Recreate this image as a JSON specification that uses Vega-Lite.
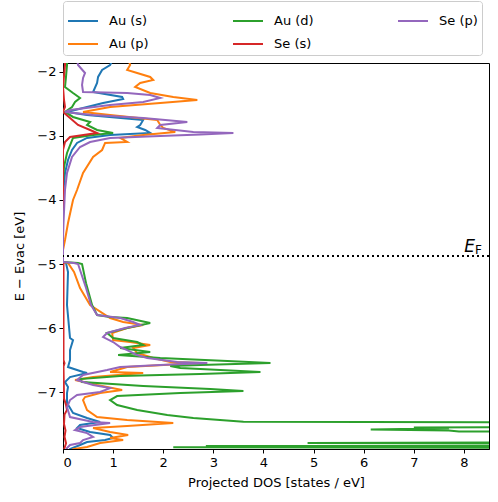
{
  "$schema": "https://vega.github.io/schema/vega-lite/v6.json",
  "width": 426,
  "height": 386,
  "autosize": {"type": "none"},
  "padding": {"left": 63, "top": 63, "right": 9, "bottom": 53},
  "config": {
    "view": {"stroke": "black", "strokeWidth": 1},
    "font": "DejaVu Sans",
    "axis": {"grid": false, "domainColor": "black", "tickColor": "black", "tickSize": 4, "labelPadding": 3, "labelFont": "DejaVu Sans", "labelFontSize": 13, "labelColor": "black", "titleFont": "DejaVu Sans", "titleFontSize": 13, "titleFontWeight": "normal", "titleColor": "black"}
  },
  "data": {"values": [
    {"orbital": "Au (s)", "E": -1.8, "dos": 1.0},
    {"orbital": "Au (s)", "E": -1.891, "dos": 0.94},
    {"orbital": "Au (s)", "E": -1.969, "dos": 0.78},
    {"orbital": "Au (s)", "E": -2.078, "dos": 0.70},
    {"orbital": "Au (s)", "E": -2.172, "dos": 0.68},
    {"orbital": "Au (s)", "E": -2.313, "dos": 0.60},
    {"orbital": "Au (s)", "E": -2.391, "dos": 1.18},
    {"orbital": "Au (s)", "E": -2.422, "dos": 1.20},
    {"orbital": "Au (s)", "E": -2.484, "dos": 0.80},
    {"orbital": "Au (s)", "E": -2.547, "dos": 0.48},
    {"orbital": "Au (s)", "E": -2.625, "dos": 0.08},
    {"orbital": "Au (s)", "E": -2.672, "dos": 0.48},
    {"orbital": "Au (s)", "E": -2.75, "dos": 1.60},
    {"orbital": "Au (s)", "E": -2.828, "dos": 1.54},
    {"orbital": "Au (s)", "E": -2.859, "dos": 1.48},
    {"orbital": "Au (s)", "E": -2.906, "dos": 1.64},
    {"orbital": "Au (s)", "E": -2.953, "dos": 1.74},
    {"orbital": "Au (s)", "E": -2.984, "dos": 0.94},
    {"orbital": "Au (s)", "E": -3.031, "dos": 0.48},
    {"orbital": "Au (s)", "E": -3.109, "dos": 0.28},
    {"orbital": "Au (s)", "E": -3.219, "dos": 0.18},
    {"orbital": "Au (s)", "E": -3.375, "dos": 0.10},
    {"orbital": "Au (s)", "E": -3.578, "dos": 0.04},
    {"orbital": "Au (s)", "E": -3.844, "dos": 0.01},
    {"orbital": "Au (s)", "E": -4.0, "dos": 0.0},
    {"orbital": "Au (s)", "E": -4.97, "dos": 0.0},
    {"orbital": "Au (s)", "E": -4.984, "dos": 0.06},
    {"orbital": "Au (s)", "E": -5.125, "dos": 0.10},
    {"orbital": "Au (s)", "E": -5.641, "dos": 0.08},
    {"orbital": "Au (s)", "E": -6.156, "dos": 0.14},
    {"orbital": "Au (s)", "E": -6.188, "dos": 0.20},
    {"orbital": "Au (s)", "E": -6.344, "dos": 0.14},
    {"orbital": "Au (s)", "E": -6.5, "dos": 0.14},
    {"orbital": "Au (s)", "E": -6.609, "dos": 0.10},
    {"orbital": "Au (s)", "E": -6.688, "dos": 0.40},
    {"orbital": "Au (s)", "E": -6.703, "dos": 0.48},
    {"orbital": "Au (s)", "E": -6.766, "dos": 0.14},
    {"orbital": "Au (s)", "E": -6.844, "dos": 0.04},
    {"orbital": "Au (s)", "E": -6.922, "dos": 0.10},
    {"orbital": "Au (s)", "E": -7.016, "dos": 0.08},
    {"orbital": "Au (s)", "E": -7.172, "dos": 0.08},
    {"orbital": "Au (s)", "E": -7.328, "dos": 0.20},
    {"orbital": "Au (s)", "E": -7.406, "dos": 0.48},
    {"orbital": "Au (s)", "E": -7.469, "dos": 0.74},
    {"orbital": "Au (s)", "E": -7.516, "dos": 0.34},
    {"orbital": "Au (s)", "E": -7.563, "dos": 0.28},
    {"orbital": "Au (s)", "E": -7.625, "dos": 0.54},
    {"orbital": "Au (s)", "E": -7.672, "dos": 0.94},
    {"orbital": "Au (s)", "E": -7.719, "dos": 1.00},
    {"orbital": "Au (s)", "E": -7.75, "dos": 0.84},
    {"orbital": "Au (s)", "E": -7.781, "dos": 0.48},
    {"orbital": "Au (s)", "E": -7.828, "dos": 0.34},
    {"orbital": "Au (s)", "E": -7.891, "dos": 0.14},
    {"orbital": "Au (s)", "E": -7.95, "dos": 0.10},

    {"orbital": "Au (p)", "E": -1.8, "dos": 1.30},
    {"orbital": "Au (p)", "E": -1.891, "dos": 1.34},
    {"orbital": "Au (p)", "E": -1.969, "dos": 1.28},
    {"orbital": "Au (p)", "E": -2.016, "dos": 1.48},
    {"orbital": "Au (p)", "E": -2.078, "dos": 1.74},
    {"orbital": "Au (p)", "E": -2.125, "dos": 1.80},
    {"orbital": "Au (p)", "E": -2.172, "dos": 1.54},
    {"orbital": "Au (p)", "E": -2.234, "dos": 1.44},
    {"orbital": "Au (p)", "E": -2.328, "dos": 1.74},
    {"orbital": "Au (p)", "E": -2.391, "dos": 2.20},
    {"orbital": "Au (p)", "E": -2.438, "dos": 2.68},
    {"orbital": "Au (p)", "E": -2.484, "dos": 1.94},
    {"orbital": "Au (p)", "E": -2.547, "dos": 0.94},
    {"orbital": "Au (p)", "E": -2.625, "dos": 0.40},
    {"orbital": "Au (p)", "E": -2.672, "dos": 0.94},
    {"orbital": "Au (p)", "E": -2.75, "dos": 1.88},
    {"orbital": "Au (p)", "E": -2.828, "dos": 1.94},
    {"orbital": "Au (p)", "E": -2.875, "dos": 2.00},
    {"orbital": "Au (p)", "E": -2.938, "dos": 2.24},
    {"orbital": "Au (p)", "E": -2.984, "dos": 1.60},
    {"orbital": "Au (p)", "E": -3.031, "dos": 1.14},
    {"orbital": "Au (p)", "E": -3.094, "dos": 1.28},
    {"orbital": "Au (p)", "E": -3.109, "dos": 0.84},
    {"orbital": "Au (p)", "E": -3.219, "dos": 0.78},
    {"orbital": "Au (p)", "E": -3.328, "dos": 0.60},
    {"orbital": "Au (p)", "E": -3.578, "dos": 0.40},
    {"orbital": "Au (p)", "E": -3.844, "dos": 0.28},
    {"orbital": "Au (p)", "E": -4.0, "dos": 0.20},
    {"orbital": "Au (p)", "E": -4.359, "dos": 0.10},
    {"orbital": "Au (p)", "E": -4.625, "dos": 0.04},
    {"orbital": "Au (p)", "E": -4.781, "dos": 0.0},
    {"orbital": "Au (p)", "E": -4.969, "dos": 0.0},
    {"orbital": "Au (p)", "E": -4.984, "dos": 0.10},
    {"orbital": "Au (p)", "E": -5.125, "dos": 0.22},
    {"orbital": "Au (p)", "E": -5.375, "dos": 0.34},
    {"orbital": "Au (p)", "E": -5.641, "dos": 0.54},
    {"orbital": "Au (p)", "E": -5.844, "dos": 0.94},
    {"orbital": "Au (p)", "E": -5.906, "dos": 1.20},
    {"orbital": "Au (p)", "E": -5.953, "dos": 1.60},
    {"orbital": "Au (p)", "E": -6.0, "dos": 1.28},
    {"orbital": "Au (p)", "E": -6.078, "dos": 0.98},
    {"orbital": "Au (p)", "E": -6.188, "dos": 1.00},
    {"orbital": "Au (p)", "E": -6.219, "dos": 1.34},
    {"orbital": "Au (p)", "E": -6.266, "dos": 1.74},
    {"orbital": "Au (p)", "E": -6.313, "dos": 1.40},
    {"orbital": "Au (p)", "E": -6.391, "dos": 1.48},
    {"orbital": "Au (p)", "E": -6.469, "dos": 1.80},
    {"orbital": "Au (p)", "E": -6.531, "dos": 2.14},
    {"orbital": "Au (p)", "E": -6.547, "dos": 2.74},
    {"orbital": "Au (p)", "E": -6.609, "dos": 1.28},
    {"orbital": "Au (p)", "E": -6.688, "dos": 0.94},
    {"orbital": "Au (p)", "E": -6.703, "dos": 1.60},
    {"orbital": "Au (p)", "E": -6.766, "dos": 0.60},
    {"orbital": "Au (p)", "E": -6.813, "dos": 0.24},
    {"orbital": "Au (p)", "E": -6.891, "dos": 0.68},
    {"orbital": "Au (p)", "E": -6.969, "dos": 1.18},
    {"orbital": "Au (p)", "E": -7.016, "dos": 0.74},
    {"orbital": "Au (p)", "E": -7.078, "dos": 0.44},
    {"orbital": "Au (p)", "E": -7.125, "dos": 0.40},
    {"orbital": "Au (p)", "E": -7.281, "dos": 0.48},
    {"orbital": "Au (p)", "E": -7.391, "dos": 0.68},
    {"orbital": "Au (p)", "E": -7.438, "dos": 1.28},
    {"orbital": "Au (p)", "E": -7.484, "dos": 2.20},
    {"orbital": "Au (p)", "E": -7.531, "dos": 1.28},
    {"orbital": "Au (p)", "E": -7.563, "dos": 0.60},
    {"orbital": "Au (p)", "E": -7.625, "dos": 0.94},
    {"orbital": "Au (p)", "E": -7.672, "dos": 1.30},
    {"orbital": "Au (p)", "E": -7.719, "dos": 0.94},
    {"orbital": "Au (p)", "E": -7.75, "dos": 1.20},
    {"orbital": "Au (p)", "E": -7.797, "dos": 0.74},
    {"orbital": "Au (p)", "E": -7.859, "dos": 0.48},
    {"orbital": "Au (p)", "E": -7.891, "dos": 0.20},
    {"orbital": "Au (p)", "E": -7.95, "dos": 0.15},

    {"orbital": "Au (d)", "E": -1.8, "dos": 0.08},
    {"orbital": "Au (d)", "E": -1.891, "dos": 0.08},
    {"orbital": "Au (d)", "E": -2.078, "dos": 0.06},
    {"orbital": "Au (d)", "E": -2.234, "dos": 0.04},
    {"orbital": "Au (d)", "E": -2.328, "dos": 0.20},
    {"orbital": "Au (d)", "E": -2.406, "dos": 0.34},
    {"orbital": "Au (d)", "E": -2.469, "dos": 0.24},
    {"orbital": "Au (d)", "E": -2.547, "dos": 0.18},
    {"orbital": "Au (d)", "E": -2.625, "dos": 0.04},
    {"orbital": "Au (d)", "E": -2.703, "dos": 0.20},
    {"orbital": "Au (d)", "E": -2.781, "dos": 0.54},
    {"orbital": "Au (d)", "E": -2.828, "dos": 0.48},
    {"orbital": "Au (d)", "E": -2.906, "dos": 0.68},
    {"orbital": "Au (d)", "E": -2.953, "dos": 1.00},
    {"orbital": "Au (d)", "E": -2.984, "dos": 0.60},
    {"orbital": "Au (d)", "E": -3.031, "dos": 0.20},
    {"orbital": "Au (d)", "E": -3.109, "dos": 0.16},
    {"orbital": "Au (d)", "E": -3.266, "dos": 0.08},
    {"orbital": "Au (d)", "E": -3.484, "dos": 0.02},
    {"orbital": "Au (d)", "E": -3.734, "dos": 0.0},
    {"orbital": "Au (d)", "E": -4.969, "dos": 0.0},
    {"orbital": "Au (d)", "E": -4.984, "dos": 0.30},
    {"orbital": "Au (d)", "E": -5.0, "dos": 0.38},
    {"orbital": "Au (d)", "E": -5.3, "dos": 0.46},
    {"orbital": "Au (d)", "E": -5.641, "dos": 0.58},
    {"orbital": "Au (d)", "E": -5.797, "dos": 0.68},
    {"orbital": "Au (d)", "E": -5.828, "dos": 0.94},
    {"orbital": "Au (d)", "E": -5.844, "dos": 1.28},
    {"orbital": "Au (d)", "E": -5.922, "dos": 1.74},
    {"orbital": "Au (d)", "E": -6.0, "dos": 1.28},
    {"orbital": "Au (d)", "E": -6.078, "dos": 0.88},
    {"orbital": "Au (d)", "E": -6.156, "dos": 1.00},
    {"orbital": "Au (d)", "E": -6.219, "dos": 1.48},
    {"orbital": "Au (d)", "E": -6.266, "dos": 1.60},
    {"orbital": "Au (d)", "E": -6.313, "dos": 1.14},
    {"orbital": "Au (d)", "E": -6.375, "dos": 1.74},
    {"orbital": "Au (d)", "E": -6.422, "dos": 1.10},
    {"orbital": "Au (d)", "E": -6.469, "dos": 1.94},
    {"orbital": "Au (d)", "E": -6.516, "dos": 3.28},
    {"orbital": "Au (d)", "E": -6.547, "dos": 4.14},
    {"orbital": "Au (d)", "E": -6.578, "dos": 2.74},
    {"orbital": "Au (d)", "E": -6.594, "dos": 2.14},
    {"orbital": "Au (d)", "E": -6.625, "dos": 2.34},
    {"orbital": "Au (d)", "E": -6.656, "dos": 3.14},
    {"orbital": "Au (d)", "E": -6.688, "dos": 3.94},
    {"orbital": "Au (d)", "E": -6.719, "dos": 2.74},
    {"orbital": "Au (d)", "E": -6.75, "dos": 1.14},
    {"orbital": "Au (d)", "E": -6.797, "dos": 0.34},
    {"orbital": "Au (d)", "E": -6.844, "dos": 0.38},
    {"orbital": "Au (d)", "E": -6.906, "dos": 1.60},
    {"orbital": "Au (d)", "E": -6.953, "dos": 2.94},
    {"orbital": "Au (d)", "E": -6.984, "dos": 3.60},
    {"orbital": "Au (d)", "E": -7.016, "dos": 2.34},
    {"orbital": "Au (d)", "E": -7.063, "dos": 1.08},
    {"orbital": "Au (d)", "E": -7.125, "dos": 0.94},
    {"orbital": "Au (d)", "E": -7.203, "dos": 1.08},
    {"orbital": "Au (d)", "E": -7.281, "dos": 1.48},
    {"orbital": "Au (d)", "E": -7.359, "dos": 2.08},
    {"orbital": "Au (d)", "E": -7.406, "dos": 2.60},
    {"orbital": "Au (d)", "E": -7.44, "dos": 3.2},
    {"orbital": "Au (d)", "E": -7.466, "dos": 3.6},
    {"orbital": "Au (d)", "E": -7.475, "dos": 12},
    {"orbital": "Au (d)", "E": -7.54, "dos": 12},
    {"orbital": "Au (d)", "E": -7.555, "dos": 7.0},
    {"orbital": "Au (d)", "E": -7.565, "dos": 7.7},
    {"orbital": "Au (d)", "E": -7.585, "dos": 6.14},
    {"orbital": "Au (d)", "E": -7.6, "dos": 7.7},
    {"orbital": "Au (d)", "E": -7.615, "dos": 7.9},
    {"orbital": "Au (d)", "E": -7.63, "dos": 12},
    {"orbital": "Au (d)", "E": -7.78, "dos": 12},
    {"orbital": "Au (d)", "E": -7.797, "dos": 4.88},
    {"orbital": "Au (d)", "E": -7.812, "dos": 12},
    {"orbital": "Au (d)", "E": -7.835, "dos": 12},
    {"orbital": "Au (d)", "E": -7.845, "dos": 2.85},
    {"orbital": "Au (d)", "E": -7.853, "dos": 6},
    {"orbital": "Au (d)", "E": -7.862, "dos": 2.2},
    {"orbital": "Au (d)", "E": -7.875, "dos": 12},
    {"orbital": "Au (d)", "E": -7.95, "dos": 12},

    {"orbital": "Se (s)", "E": -1.8, "dos": 0.04},
    {"orbital": "Se (s)", "E": -1.891, "dos": 0.04},
    {"orbital": "Se (s)", "E": -2.234, "dos": 0.0},
    {"orbital": "Se (s)", "E": -2.438, "dos": 0.02},
    {"orbital": "Se (s)", "E": -2.547, "dos": 0.04},
    {"orbital": "Se (s)", "E": -2.625, "dos": 0.0},
    {"orbital": "Se (s)", "E": -2.719, "dos": 0.14},
    {"orbital": "Se (s)", "E": -2.828, "dos": 0.30},
    {"orbital": "Se (s)", "E": -2.906, "dos": 0.54},
    {"orbital": "Se (s)", "E": -2.953, "dos": 0.68},
    {"orbital": "Se (s)", "E": -3.016, "dos": 0.14},
    {"orbital": "Se (s)", "E": -3.094, "dos": 0.04},
    {"orbital": "Se (s)", "E": -3.219, "dos": 0.0},
    {"orbital": "Se (s)", "E": -4.95, "dos": 0.0},
    {"orbital": "Se (s)", "E": -5.0, "dos": 0.01},
    {"orbital": "Se (s)", "E": -6.5, "dos": 0.01},
    {"orbital": "Se (s)", "E": -6.55, "dos": 0.03},
    {"orbital": "Se (s)", "E": -6.6, "dos": 0.01},
    {"orbital": "Se (s)", "E": -7.1, "dos": 0.02},
    {"orbital": "Se (s)", "E": -7.2, "dos": 0.06},
    {"orbital": "Se (s)", "E": -7.28, "dos": 0.08},
    {"orbital": "Se (s)", "E": -7.35, "dos": 0.03},
    {"orbital": "Se (s)", "E": -7.5, "dos": 0.02},
    {"orbital": "Se (s)", "E": -7.6, "dos": 0.05},
    {"orbital": "Se (s)", "E": -7.7, "dos": 0.03},
    {"orbital": "Se (s)", "E": -7.8, "dos": 0.06},
    {"orbital": "Se (s)", "E": -7.9, "dos": 0.02},

    {"orbital": "Se (p)", "E": -1.8, "dos": 0.28},
    {"orbital": "Se (p)", "E": -1.891, "dos": 0.30},
    {"orbital": "Se (p)", "E": -2.016, "dos": 0.44},
    {"orbital": "Se (p)", "E": -2.094, "dos": 0.40},
    {"orbital": "Se (p)", "E": -2.203, "dos": 0.38},
    {"orbital": "Se (p)", "E": -2.313, "dos": 0.40},
    {"orbital": "Se (p)", "E": -2.328, "dos": 1.28},
    {"orbital": "Se (p)", "E": -2.359, "dos": 1.74},
    {"orbital": "Se (p)", "E": -2.406, "dos": 1.94},
    {"orbital": "Se (p)", "E": -2.469, "dos": 1.60},
    {"orbital": "Se (p)", "E": -2.516, "dos": 0.94},
    {"orbital": "Se (p)", "E": -2.594, "dos": 0.14},
    {"orbital": "Se (p)", "E": -2.625, "dos": 0.04},
    {"orbital": "Se (p)", "E": -2.672, "dos": 0.60},
    {"orbital": "Se (p)", "E": -2.719, "dos": 1.60},
    {"orbital": "Se (p)", "E": -2.781, "dos": 2.48},
    {"orbital": "Se (p)", "E": -2.828, "dos": 1.94},
    {"orbital": "Se (p)", "E": -2.875, "dos": 1.88},
    {"orbital": "Se (p)", "E": -2.938, "dos": 2.60},
    {"orbital": "Se (p)", "E": -2.953, "dos": 3.40},
    {"orbital": "Se (p)", "E": -2.977, "dos": 2.74},
    {"orbital": "Se (p)", "E": -3.0, "dos": 1.94},
    {"orbital": "Se (p)", "E": -3.031, "dos": 0.94},
    {"orbital": "Se (p)", "E": -3.094, "dos": 0.54},
    {"orbital": "Se (p)", "E": -3.172, "dos": 0.34},
    {"orbital": "Se (p)", "E": -3.328, "dos": 0.18},
    {"orbital": "Se (p)", "E": -3.578, "dos": 0.08},
    {"orbital": "Se (p)", "E": -3.844, "dos": 0.04},
    {"orbital": "Se (p)", "E": -4.359, "dos": 0.01},
    {"orbital": "Se (p)", "E": -4.6, "dos": 0.0},
    {"orbital": "Se (p)", "E": -4.969, "dos": 0.0},
    {"orbital": "Se (p)", "E": -4.984, "dos": 0.22},
    {"orbital": "Se (p)", "E": -5.0, "dos": 0.30},
    {"orbital": "Se (p)", "E": -5.375, "dos": 0.46},
    {"orbital": "Se (p)", "E": -5.641, "dos": 0.56},
    {"orbital": "Se (p)", "E": -5.797, "dos": 0.68},
    {"orbital": "Se (p)", "E": -5.844, "dos": 1.14},
    {"orbital": "Se (p)", "E": -5.906, "dos": 1.40},
    {"orbital": "Se (p)", "E": -5.953, "dos": 1.54},
    {"orbital": "Se (p)", "E": -6.0, "dos": 1.24},
    {"orbital": "Se (p)", "E": -6.078, "dos": 0.88},
    {"orbital": "Se (p)", "E": -6.141, "dos": 0.80},
    {"orbital": "Se (p)", "E": -6.219, "dos": 1.00},
    {"orbital": "Se (p)", "E": -6.297, "dos": 1.14},
    {"orbital": "Se (p)", "E": -6.344, "dos": 1.28},
    {"orbital": "Se (p)", "E": -6.422, "dos": 1.48},
    {"orbital": "Se (p)", "E": -6.469, "dos": 1.68},
    {"orbital": "Se (p)", "E": -6.531, "dos": 2.28},
    {"orbital": "Se (p)", "E": -6.547, "dos": 2.88},
    {"orbital": "Se (p)", "E": -6.578, "dos": 1.94},
    {"orbital": "Se (p)", "E": -6.609, "dos": 1.14},
    {"orbital": "Se (p)", "E": -6.656, "dos": 0.88},
    {"orbital": "Se (p)", "E": -6.734, "dos": 0.40},
    {"orbital": "Se (p)", "E": -6.813, "dos": 0.28},
    {"orbital": "Se (p)", "E": -6.891, "dos": 0.60},
    {"orbital": "Se (p)", "E": -6.938, "dos": 0.94},
    {"orbital": "Se (p)", "E": -7.0, "dos": 0.74},
    {"orbital": "Se (p)", "E": -7.047, "dos": 0.28},
    {"orbital": "Se (p)", "E": -7.125, "dos": 0.14},
    {"orbital": "Se (p)", "E": -7.234, "dos": 0.08},
    {"orbital": "Se (p)", "E": -7.391, "dos": 0.14},
    {"orbital": "Se (p)", "E": -7.469, "dos": 0.60},
    {"orbital": "Se (p)", "E": -7.484, "dos": 0.94},
    {"orbital": "Se (p)", "E": -7.547, "dos": 0.34},
    {"orbital": "Se (p)", "E": -7.594, "dos": 0.24},
    {"orbital": "Se (p)", "E": -7.641, "dos": 0.48},
    {"orbital": "Se (p)", "E": -7.703, "dos": 0.60},
    {"orbital": "Se (p)", "E": -7.75, "dos": 0.40},
    {"orbital": "Se (p)", "E": -7.797, "dos": 0.34},
    {"orbital": "Se (p)", "E": -7.828, "dos": 0.14},
    {"orbital": "Se (p)", "E": -7.875, "dos": 0.08},
    {"orbital": "Se (p)", "E": -7.95, "dos": 0.05}
  ]},
  "layer": [
    {
      "mark": {"type": "line", "clip": true, "strokeWidth": 2},
      "encoding": {
        "x": {"field": "dos", "type": "quantitative", "scale": {"domain": [0, 8.5], "nice": false, "zero": false},
              "axis": {"values": [0,1,2,3,4,5,6,7,8], "format": "d", "title": "Projected DOS [states / eV]", "titlePadding": 7}},
        "y": {"field": "E", "type": "quantitative", "scale": {"domain": [-7.89, -1.86], "nice": false, "zero": false},
              "axis": {"values": [-7,-6,-5,-4,-3,-2], "format": "d", "title": "E − Evac [eV]", "titlePadding": 10}},
        "order": {"field": "E", "type": "quantitative", "sort": "descending"},
        "color": {"field": "orbital", "type": "nominal",
          "scale": {"domain": ["Au (s)", "Au (d)", "Se (p)", "Au (p)", "Se (s)"], "range": ["#1f77b4", "#2ca02c", "#9467bd", "#ff7f0e", "#d62728"]},
          "legend": {"orient": "none", "legendX": 0, "legendY": -62, "direction": "horizontal", "columns": 3, "title": null,
            "symbolType": "stroke", "symbolSize": 900, "symbolStrokeWidth": 2, "labelFontSize": 13, "labelFont": "DejaVu Sans", "labelColor": "black",
            "strokeColor": "#cccccc", "fillColor": "white", "padding": 4, "cornerRadius": 3, "columnPadding": 80, "rowPadding": 0, "labelOffset": 10}}
      }
    },
    {
      "data": {"values": [{}]},
      "mark": {"type": "rule", "color": "black", "strokeWidth": 2, "strokeDash": [2, 3]},
      "encoding": {"y": {"datum": -4.875}}
    },
    {
      "data": {"values": [{}]},
      "mark": {"type": "text", "text": "E", "font": "DejaVu Sans", "fontStyle": "italic", "fontSize": 17, "align": "right", "baseline": "alphabetic", "dx": -14, "dy": -4, "color": "black"},
      "encoding": {"x": {"datum": 8.5}, "y": {"datum": -4.875}}
    },
    {
      "data": {"values": [{}]},
      "mark": {"type": "text", "text": "F", "font": "DejaVu Sans", "fontSize": 12, "align": "right", "baseline": "alphabetic", "dx": -7, "dy": -2, "color": "black"},
      "encoding": {"x": {"datum": 8.5}, "y": {"datum": -4.875}}
    }
  ]
}
